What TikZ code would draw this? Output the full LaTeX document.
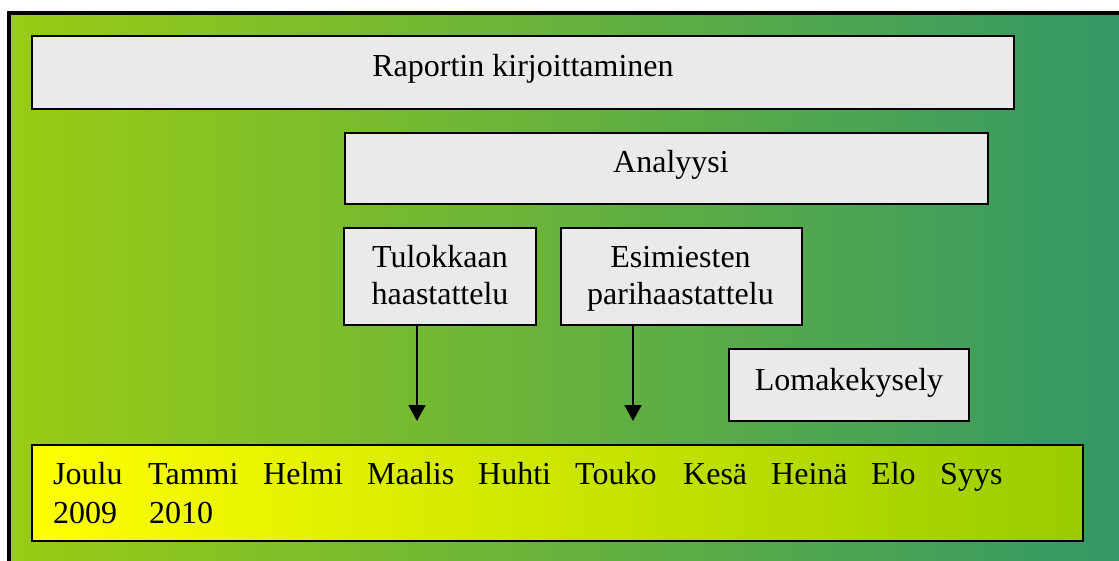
\documentclass[tikz,border=0pt]{standalone}
\usepackage{fontspec}
\setmainfont{Liberation Serif}
\usetikzlibrary{arrows.meta}
\definecolor{bgleft}{RGB}{154,204,20}
\definecolor{bgright}{RGB}{51,152,102}
\definecolor{barleft}{RGB}{255,255,0}
\definecolor{barright}{RGB}{153,204,0}
\definecolor{boxgray}{RGB}{234,234,234}
\begin{document}
\begin{tikzpicture}[x=1pt,y=-1pt,
  font=\fontsize{32}{38}\selectfont,
  box/.style={draw=black,line width=2.2pt,fill=boxgray,inner sep=0pt},
  bar/.style={draw=black,line width=2.2pt,left color=barleft,right color=barright,inner sep=0pt},
  lbl/.style={anchor=base,inner sep=0pt},
  month/.style={anchor=base west,inner sep=0pt},
  arr/.style={line width=2pt,-{Triangle[width=17pt,length=16pt]}}]
\useasboundingbox (0,0) rectangle (1119,561);

% background and frame
\shade[left color=bgleft,right color=bgright] (9,13) rectangle (1119,561);
\draw[line width=4pt,line join=miter] (9,561) -- (9,13) -- (1119,13);

% task boxes
\node[box,minimum width=982pt,minimum height=73pt] (rap) at (523,72.5) {};
\node[lbl] (raptxt) at (523,77) {Raportin kirjoittaminen};

\node[box,minimum width=643pt,minimum height=71pt] (ana) at (666.5,168.5) {};
\node[lbl] (anatxt) at (671,173) {Analyysi};

\node[box,minimum width=192pt,minimum height=97pt] (tul) at (440,276.5) {};
\node[lbl] (tul1) at (440,268) {Tulokkaan};
\node[lbl] (tul2) at (440,305) {haastattelu};

\node[box,minimum width=241pt,minimum height=97pt] (esi) at (681.5,276.5) {};
\node[lbl] (esi1) at (680.5,268) {Esimiesten};
\node[lbl] (esi2) at (680.5,305) {parihaastattelu};

\node[box,minimum width=240pt,minimum height=72pt] (lom) at (849,385) {};
\node[lbl] (lomtxt) at (849,390) {Lomakekysely};

% timeline
\node[bar,minimum width=1051pt,minimum height=96pt] (time) at (557.5,493) {};
\node[month] (m1) at (53,484) {Joulu};
\node[month] (m2) at (148,484) {Tammi};
\node[month] (m3) at (263,484) {Helmi};
\node[month] (m4) at (367,484) {Maalis};
\node[month] (m5) at (478,484) {Huhti};
\node[month] (m6) at (575,484) {Touko};
\node[month] (m7) at (683,484) {Kesä};
\node[month] (m8) at (771,484) {Heinä};
\node[month] (m9) at (871,484) {Elo};
\node[month] (m10) at (940,484) {Syys};
\node[month] (y1) at (53,523) {2009};
\node[month] (y2) at (149,523) {2010};

% arrows from the interview boxes
\coordinate (a1) at (417,421);
\coordinate (a2) at (633,421);
\draw[arr] (a1 |- tul.south) -- (a1);
\draw[arr] (a2 |- esi.south) -- (a2);
\end{tikzpicture}
\end{document}
